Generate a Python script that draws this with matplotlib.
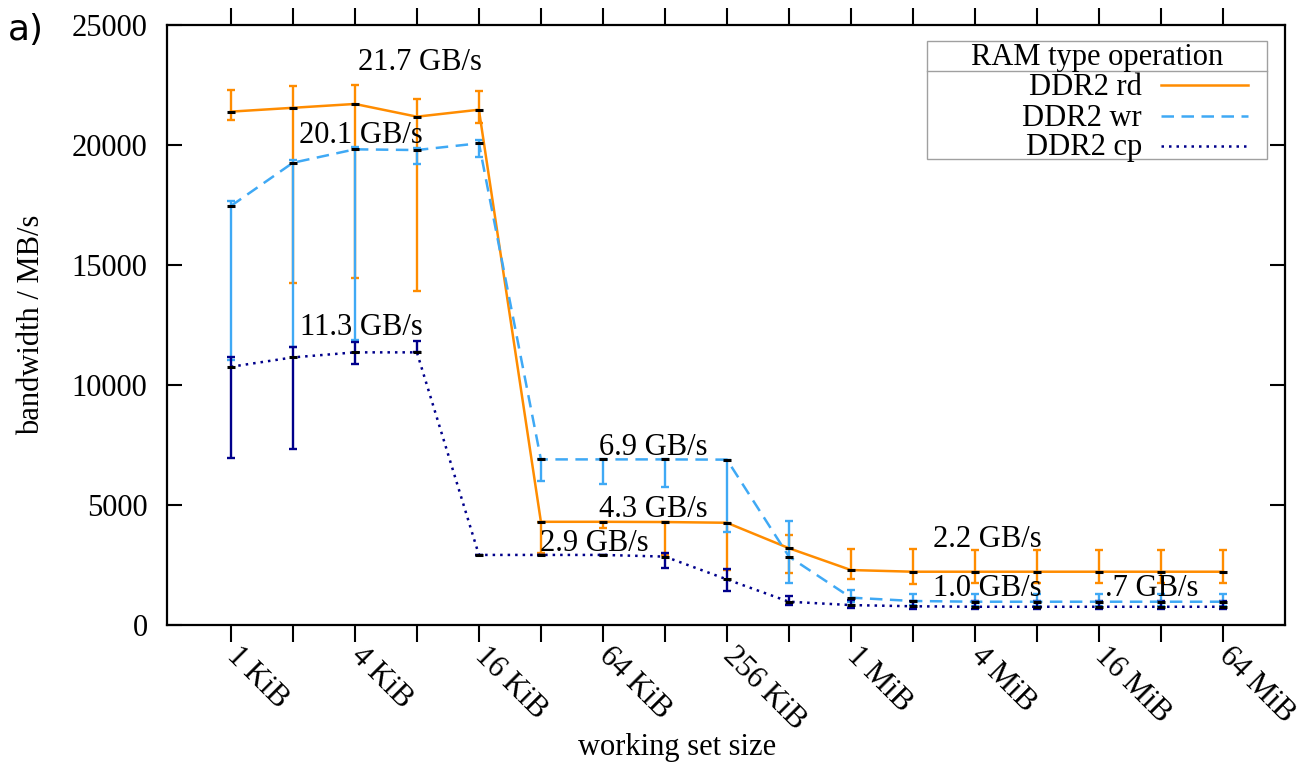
import matplotlib
matplotlib.use("Agg")
import matplotlib.pyplot as plt
import numpy as np
from matplotlib.lines import Line2D
from matplotlib.patches import Rectangle

# ---------------- datos ----------------
sizes = [1024 * 2 ** k for k in range(17)]  # 1 KiB .. 64 MiB
tick_labels = ['1 KiB', '', '4 KiB', '', '16 KiB', '', '64 KiB', '', '256 KiB', '',
               '1 MiB', '', '4 MiB', '', '16 MiB', '', '64 MiB']

rd = [21390, 21550, 21710, 21180, 21470, 4300, 4300, 4290, 4260, 3200, 2290,
      2220, 2220, 2220, 2220, 2220, 2220]
rd_lo = [21040, 14250, 14460, 13900, 20900, 3000, 4040, 2900, 2290, 2170, 1900,
         1700, 1750, 1750, 1750, 1750, 1750]
rd_hi = [22290, 22460, 22500, 21920, 22250, 4300, 4300, 4290, 4260, 3750, 3170,
         3150, 3120, 3120, 3120, 3120, 3120]

wr = [17460, 19260, 19820, 19790, 20070, 6900, 6900, 6900, 6890, 2850, 1140,
      1000, 970, 970, 970, 970, 970]
wr_lo = [11040, 11600, 11870, 19200, 19510, 6000, 5870, 5760, 3890, 1760, 970,
         830, 800, 800, 800, 800, 800]
wr_hi = [17670, 19370, 19900, 19870, 20200, 6900, 6900, 6900, 6890, 4350, 1460,
         1290, 1290, 1290, 1290, 1290, 1290]

cp = [10760, 11150, 11360, 11360, 2920, 2920, 2920, 2850, 1900, 970, 830,
      780, 760, 760, 760, 760, 760]
cp_lo = [6940, 7320, 10860, 11360, 2920, 2920, 2920, 2390, 1420, 830, 720,
         670, 670, 670, 670, 670, 670]
cp_hi = [11150, 11600, 11780, 11820, 2920, 2920, 2920, 3000, 2330, 1210, 1040,
         1000, 1000, 1000, 1000, 1000, 1000]

series_names = ['DDR2 rd', 'DDR2 wr', 'DDR2 cp']

# etiquetas de pico (texto, x en bytes, y en MB/s)
peak_labels = [
    ('21.7 GB/s', 1024 * 2 ** 2.05, 23125),
    ('20.1 GB/s', 1024 * 2 ** 1.10, 20083),
    ('11.3 GB/s', 1024 * 2 ** 1.11, 12083),
    ('6.9 GB/s', 1024 * 2 ** 5.94, 7083),
    ('4.3 GB/s', 1024 * 2 ** 5.94, 4500),
    ('2.9 GB/s', 1024 * 2 ** 4.98, 3083),
    ('2.2 GB/s', 1024 * 2 ** 11.32, 3250),
    ('1.0 GB/s', 1024 * 2 ** 11.32, 1208),
    ('.7 GB/s', 1024 * 2 ** 14.10, 1208),
]

# ---------------- estilo ----------------
plt.rcParams['font.family'] = ['Liberation Serif', 'DejaVu Serif']
FS = 22
W, H = 1306, 773

def fpx(x, y):
    """pixel -> fraccion de figura"""
    return x / W, 1 - y / H

fig = plt.figure(figsize=(W / 100, H / 100), dpi=100)
ax = fig.add_axes([167 / W, 1 - 625 / H, (1285 - 167) / W, 600 / H])

styles = [
    (rd, rd_lo, rd_hi, '#ff8c00', '-'),
    (wr, wr_lo, wr_hi, '#3fa9f5', (0, (5, 3))),
    (cp, cp_lo, cp_hi, '#00008b', (0, (1, 2))),
]

x = np.array(sizes, dtype=float)
for vals, lo, hi, col, ls in styles:
    v = np.array(vals, dtype=float)
    yerr = [v - np.array(lo), np.array(hi) - v]
    ax.errorbar(x, v, yerr=yerr, fmt='none', ecolor=col, elinewidth=1.7,
                capsize=3, capthick=1.7, zorder=2)
    ax.plot(x, v, color=col, linestyle=ls, linewidth=1.8, zorder=3)

for vals, lo, hi, col, ls in styles:
    ax.plot(x, vals, linestyle='none', marker='_', color='black',
            markersize=6, markeredgewidth=2.2, zorder=4)

for txt, tx, ty in peak_labels:
    ax.text(tx, ty, txt, fontsize=FS, ha='left', va='baseline', zorder=5)

ax.set_xscale('log', base=2)
ax.set_xlim(1024 * 2 ** -1.03, 1024 * 2 ** 17)
ax.set_ylim(0, 25000)
ax.set_xticks(sizes)
ax.set_xticklabels(tick_labels, rotation=-45, ha='left', va='center',
                   rotation_mode='anchor', fontsize=FS)
ax.xaxis.set_minor_locator(matplotlib.ticker.NullLocator())
ax.set_yticks([0, 5000, 10000, 15000, 20000, 25000])
ax.tick_params(axis='y', labelsize=FS, direction='in', left=True, right=True,
               length=11, width=1.5, pad=14)
ax.tick_params(axis='x', direction='out', top=True, bottom=True,
               length=12, width=1.5, pad=7)
for s in ax.spines.values():
    s.set_linewidth(1.6)

ax.set_xlabel('working set size', fontsize=FS, va='center')
ax.xaxis.set_label_coords((677 - 167) / 1118, (625 - 748) / 600)
ax.set_ylabel('bandwidth / MB/s', fontsize=FS, va='center')
ax.yaxis.set_label_coords((32 - 167) / 1118, (625 - 325) / 600)

fig.text(*fpx(8, 40), 'a)', fontsize=26, family='DejaVu Sans',
         ha='left', va='baseline')

# ---------------- leyenda ----------------
x0, y0 = fpx(927, 159)
x1, y1 = fpx(1267, 41)
fig.add_artist(Rectangle((x0, y0), x1 - x0, y1 - y0, transform=fig.transFigure,
                         facecolor='white', edgecolor='#a0a0a0', lw=1.0, zorder=10))
sx0, sy = fpx(927, 71)
sx1, _ = fpx(1267, 71)
fig.add_artist(Line2D([sx0, sx1], [sy, sy], transform=fig.transFigure,
                      color='#a0a0a0', lw=1.0, zorder=11))
fig.text(*fpx(1097, 65), 'RAM type operation', fontsize=FS, ha='center',
         va='baseline', zorder=11)
rows_y = [(95, 85), (126, 116), (155, 146)]
for (by, ly), name, st in zip(rows_y, series_names, styles):
    fig.text(*fpx(1142, by), name, fontsize=FS, ha='right', va='baseline', zorder=11)
    lx0, lyy = fpx(1161, ly)
    lx1, _ = fpx(1248, ly)
    fig.add_artist(Line2D([lx0, lx1], [lyy, lyy], transform=fig.transFigure,
                          color=st[3], linestyle=st[4], lw=1.8, zorder=11))

fig.savefig('out.png', dpi=100)
